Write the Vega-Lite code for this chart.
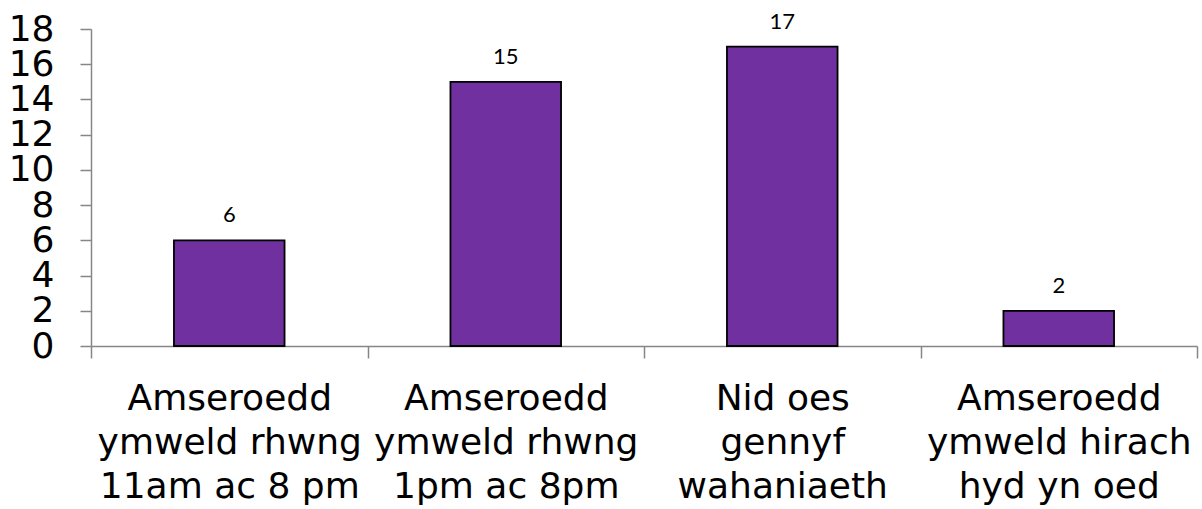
{
  "$schema": "https://vega.github.io/schema/vega-lite/v6.json",
  "autosize": {"type": "none"},
  "width": 1106,
  "height": 317,
  "padding": {"left": 91, "top": 29, "right": 5, "bottom": 163},
  "background": "white",
  "config": {"view": {"stroke": null}},
  "data": {"values": [
    {"category": "Amseroedd\nymweld rhwng\n11am ac 8 pm", "value": 6},
    {"category": "Amseroedd\nymweld rhwng\n1pm ac 8pm", "value": 15},
    {"category": "Nid oes\ngennyf\nwahaniaeth", "value": 17},
    {"category": "Amseroedd\nymweld hirach\nhyd yn oed", "value": 2}
  ]},
  "encoding": {
    "x": {
      "field": "category", "type": "nominal", "sort": null,
      "scale": {"paddingInner": 0, "paddingOuter": 0},
      "axis": {
        "title": null, "labelAngle": 0, "domainColor": "#868686", "tickColor": "#868686",
        "domainWidth": 1.5, "tickWidth": 1.5, "tickSize": 12, "tickBand": "extent",
        "labelFont": "DejaVu Sans", "labelFontSize": 36, "labelColor": "#000000",
        "labelLineHeight": 44, "labelPadding": 23, "labelBaseline": "top",
        "labelExpr": "split(datum.label, '\\n')", "labelOverlap": false, "labelLimit": 0
      }
    },
    "y": {
      "field": "value", "type": "quantitative",
      "scale": {"domain": [0, 18], "nice": false},
      "axis": {
        "title": null, "values": [0, 2, 4, 6, 8, 10, 12, 14, 16, 18], "grid": false,
        "domainColor": "#868686", "tickColor": "#868686", "domainWidth": 1.5, "tickWidth": 1.5,
        "tickSize": 11, "labelFont": "DejaVu Sans", "labelFontSize": 36, "labelColor": "#000000",
        "labelPadding": 26, "labelOverlap": false, "labelFlush": false, "labelBound": false
      }
    }
  },
  "layer": [
    {"mark": {"type": "bar", "width": {"band": 0.4}, "color": "#7030A0", "stroke": "#000000", "strokeWidth": 1.8}},
    {"mark": {"type": "text", "baseline": "alphabetic", "dy": -18, "font": "Lato", "fontSize": 22, "color": "#000000"},
     "encoding": {"text": {"field": "value", "type": "quantitative"}}}
  ]
}
